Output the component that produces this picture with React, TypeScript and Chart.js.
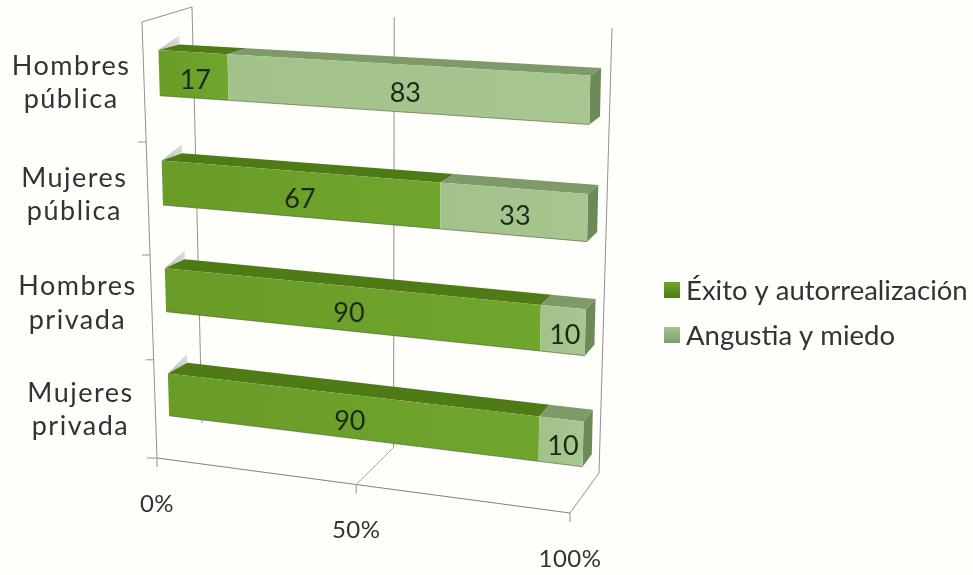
import React, { useEffect, useRef } from "react";
import { Chart, registerables } from "chart.js";

Chart.register(...registerables);

const categories = [["Hombres", "pública"], ["Mujeres", "pública"], ["Hombres", "privada"], ["Mujeres", "privada"]];
const exito = [17, 67, 90, 90];
const angustia = [83, 33, 10, 10];
const seriesNames = ["Éxito y autorrealización", "Angustia y miedo"];
const xTicks = [0, 50, 100];

type Pt = [number, number];
const FONT = "Lato";
const BG = "#fefefa";
const GRID = "#8f9291";

function homography(q: Pt[]) {
  const [[x0, y0], [x1, y1], [x2, y2], [x3, y3]] = q;
  const dx1 = x1 - x2, dx2 = x3 - x2, sx = x0 - x1 + x2 - x3;
  const dy1 = y1 - y2, dy2 = y3 - y2, sy = y0 - y1 + y2 - y3;
  const den = dx1 * dy2 - dx2 * dy1;
  const g = (sx * dy2 - dx2 * sy) / den;
  const h = (dx1 * sy - sx * dy1) / den;
  const a = x1 - x0 + g * x1, b = x3 - x0 + h * x3;
  const d = y1 - y0 + g * y1, e = y3 - y0 + h * y3;
  return (u: number, v: number): Pt => {
    const w = g * u + h * v + 1;
    return [(a * u + b * v + x0) / w, (d * u + e * v + y0) / w];
  };
}

// The projected planes of the 3-D box
const front = homography([[157.5, 17], [591, 40], [582, 499], [170, 446]]);
const back = homography([[178.5, 12], [602, 33], [591, 486], [189, 434]]);
const wall = homography([[192, 7], [612, 28], [599, 473], [202, 423]]);
const floor = homography([[157, 458], [570, 513], [599, 473], [202, 423]]);
const side = homography([[142, 22], [192, 7], [202, 423], [157, 458]]);

const poly = (ctx: CanvasRenderingContext2D, pts: Pt[], fill: string | CanvasGradient) => {
  ctx.beginPath();
  pts.forEach((p, i) => (i ? ctx.lineTo(p[0], p[1]) : ctx.moveTo(p[0], p[1])));
  ctx.closePath();
  ctx.fillStyle = fill;
  ctx.fill();
};
const line = (ctx: CanvasRenderingContext2D, a: Pt, b: Pt, color = GRID, w = 1) => {
  ctx.beginPath();
  ctx.moveTo(a[0], a[1]);
  ctx.lineTo(b[0], b[1]);
  ctx.strokeStyle = color;
  ctx.lineWidth = w;
  ctx.stroke();
};

const palette = [
  { face: "#689c26", faceHi: "#70a52e", top: "#4f7b16", side: "#4f7b16" },
  { face: "#a3c28a", faceHi: "#a7c690", top: "#7e9a69", side: "#6c8a59" },
];

const projection = {
  id: "projection",
  beforeDatasetsDraw(chart: any) {
    const { ctx, chartArea: ca, scales } = chart;
    const U = (px: number) => (px - ca.left) / (ca.right - ca.left);
    const V = (py: number) => (py - ca.top) / (ca.bottom - ca.top);
    const xs = scales.x;

    ctx.save();
    // Frame and grid
    line(ctx, side(0, 0), side(1, 0));
    line(ctx, side(0, 0), side(0, 1));
    line(ctx, side(1, 0), side(1, 1));
    line(ctx, floor(0, 0), floor(1, 0), "#7f8382");
    line(ctx, floor(1, 0), floor(1, 1));
    xTicks.forEach((t) => {
      const u = U(xs.getPixelForValue(t));
      if (t > 0) line(ctx, wall(u, 0), wall(u, 1));
      if (t > 0 && t < 100) line(ctx, floor(u, 0), floor(u, 1), "#a5a7a5");
      const p = floor(u, 0);
      line(ctx, p, [p[0], p[1] + 9]);
    });
    [0.257, 0.511, 0.758].forEach((v) => {
      const p = side(0, v);
      line(ctx, [p[0] - 8, p[1]], p);
    });
    const f0 = floor(0, 0);
    line(ctx, [f0[0] - 10, f0[1]], f0);

    const n = categories.length;
    const sets = chart.data.datasets.length;
    for (let i = 0; i < n; i++) {
      const bars = Array.from({ length: sets }, (_, d) => chart.getDatasetMeta(d).data[i]);
      const v0 = V(bars[0].y - bars[0].height / 2);
      const v1 = V(bars[0].y + bars[0].height / 2);

      // faint wedge at the closed end of the bar
      const fl = front(0, v0), bl = back(0, v0);
      const wg = ctx.createLinearGradient(fl[0], fl[1], bl[0], bl[1] - 9);
      wg.addColorStop(0, "#b9bdb5");
      wg.addColorStop(1, "#dfe1db");
      poly(ctx, [fl, [bl[0], bl[1] - 9], bl], wg);

      bars.forEach((b: any, d: number) => {
        const c = palette[d];
        const u0 = U(b.base), u1 = U(b.x);
        poly(ctx, [front(u0, v0), back(u0, v0), back(u1, v0), front(u1, v0)], c.top);
      });
      const uEnd = U(bars[sets - 1].x);
      poly(ctx, [front(uEnd, v0), back(uEnd, v0), back(uEnd, v1), front(uEnd, v1)], palette[sets - 1].side);
      bars.forEach((b: any, d: number) => {
        const c = palette[d];
        const u0 = U(b.base), u1 = U(b.x);
        const a = front(u0, v0), e = front(u1, v0);
        const g = ctx.createLinearGradient(a[0], a[1], e[0], e[1]);
        g.addColorStop(0, c.face);
        g.addColorStop(1, c.faceHi);
        poly(ctx, [a, e, front(u1, v1), front(u0, v1)], g);
      });
      line(ctx, front(0, v1), front(uEnd, v1), "rgba(60,80,40,0.55)", 1);
    }

    // Text
    ctx.fillStyle = "#1d2a1a";
    ctx.textAlign = "center";
    ctx.textBaseline = "middle";
    ctx.font = `27px ${FONT}`;
    chart.data.datasets.forEach((ds: any, d: number) => {
      chart.getDatasetMeta(d).data.forEach((b: any, i: number) => {
        const p = front(U((b.base + b.x) / 2), V(b.y));
        ctx.fillText(String(ds.data[i]), p[0] + 2, p[1] + 5);
      });
    });

    ctx.fillStyle = "#333333";
    ctx.font = `27px ${FONT}`;
    (ctx as any).letterSpacing = "1.5px";
    categories.forEach((lines, i) => {
      const p = front(0, V(scales.y.getPixelForValue(i)));
      lines.forEach((t, k) => ctx.fillText(t, p[0] - 88, p[1] + 10 + i * 1.7 + (k - 0.5) * 33.5));
    });
    (ctx as any).letterSpacing = "0.5px";
    ctx.font = `24px ${FONT}`;
    xTicks.forEach((t) => {
      const p = floor(U(xs.getPixelForValue(t)), 0);
      ctx.fillText(`${t}%`, p[0], p[1] + 46);
    });
    (ctx as any).letterSpacing = "0px";

    // Legend
    ctx.textAlign = "left";
    ctx.font = `27.5px ${FONT}`;
    chart.data.datasets.forEach((ds: any, d: number) => {
      const y = 290 + d * 45;
      const g = ctx.createLinearGradient(0, y - 8, 0, y + 8);
      g.addColorStop(0, palette[d].faceHi);
      g.addColorStop(1, palette[d].top);
      ctx.fillStyle = g;
      ctx.fillRect(664, y - 8, 16, 16);
      ctx.fillStyle = "#333333";
      ctx.fillText(ds.label, 686, y + 1);
    });
    ctx.restore();
    return false;
  },
};

export default function App() {
  const ref = useRef<HTMLCanvasElement>(null);
  useEffect(() => {
    document.body.style.margin = "0";
    document.body.style.background = BG;
    const chart = new Chart(ref.current!, {
      type: "bar",
      data: {
        labels: categories as any,
        datasets: [
          { label: seriesNames[0], data: exito, backgroundColor: palette[0].face, barPercentage: 0.41, categoryPercentage: 1 },
          { label: seriesNames[1], data: angustia, backgroundColor: palette[1].face, barPercentage: 0.41, categoryPercentage: 1 },
        ],
      },
      options: {
        indexAxis: "y",
        animation: false,
        responsive: false,
        scales: {
          x: { display: false, stacked: true, min: 0, max: 100, ticks: { stepSize: 50 } },
          y: { display: false, stacked: true },
        },
        plugins: {
          tooltip: { enabled: false },
          legend: { display: false },
        },
      },
      plugins: [projection],
    } as any);
    return () => chart.destroy();
  }, []);
  return <canvas ref={ref} width={973} height={575} style={{ display: "block", background: BG }} />;
}
